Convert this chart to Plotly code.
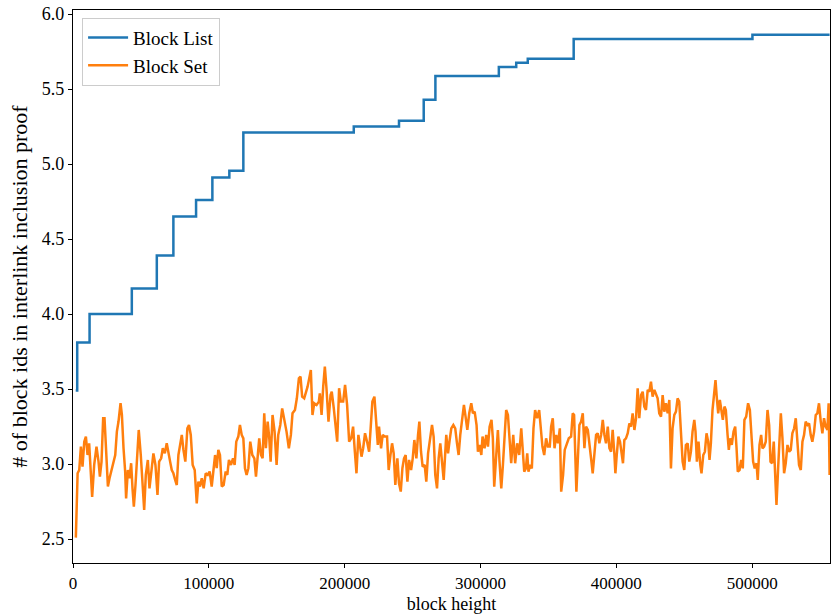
import plotly.graph_objects as go

# Block List: step changes (block height, value)
list_x = [2000, 3100, 12200, 43300, 61700, 73900, 90600, 102600, 115100, 125400,
          206700, 240000, 258200, 266800, 313500, 326300, 334800, 368600, 500200, 557000]
list_y = [3.49, 3.81, 4.00, 4.17, 4.39, 4.65, 4.76, 4.91, 4.955, 5.21,
          5.25, 5.288, 5.428, 5.587, 5.647, 5.675, 5.702, 5.833, 5.862, 5.862]

# Block Set: noisy series (block height, value)
set_x = [
    2100, 3400, 4600, 5800, 7000, 8300, 9500, 10700, 11900, 13200, 14100, 15600, 17300, 18800,
    19800, 21000, 22200, 23200, 24400, 25700, 26900, 28100, 29800, 31100, 32300, 33500, 35000,
    36000, 37200, 38400, 39100, 40400, 41600, 42800, 43800, 44800, 46000, 47000, 48400, 49900,
    51100, 52400, 53600, 55100, 56300, 57500, 59200, 60700, 62200, 63400, 64900, 66100, 67600,
    69000, 70300, 71500, 72700, 73900, 75200, 76400, 77600, 78800, 80100, 81300, 82700, 84200,
    85400, 86700, 88100, 89600,
    91100, 92300, 93500, 94800, 96200, 97700, 99200, 100600, 102100, 103300, 104600, 105800,
    107000, 108200, 109500, 110900, 112400, 113600, 114800, 116300, 117800, 119000, 120200,
    121700, 122900, 124200, 125400, 126600, 127800, 129100, 130500, 132000, 133500, 134700,
    135900, 137100, 138400, 139600, 140800, 142000, 143300, 144500, 145500, 146900, 148400,
    149900, 151100, 152600, 154000, 155500, 157200, 158900, 160400, 161600, 163400, 164800,
    166300, 167500, 168700, 170200, 171400, 172700, 173900, 175100, 176300, 177600, 179300,
    181000,
    181700, 183000, 184200, 185400, 186600, 188100, 189600, 190500, 192000, 193200, 194500,
    195900, 197200, 198900, 200300, 201800, 203300, 204800, 206200, 207500, 208700, 210100,
    211400, 212400, 213600, 215000, 216500, 218000, 219200, 220400, 221900, 223100, 224400,
    225300, 226800, 228000, 229500, 231200, 232400, 233700, 234900, 236100, 237300, 238800,
    240000, 241300, 242500, 243700, 244900, 246200, 247400, 248900, 250100, 251300, 252800,
    254000, 255000, 256200, 257400, 258900, 260100, 261400, 262800, 264300, 265500, 266700,
    268000, 269200, 270400, 271600, 272900,
    274800, 276100, 277300, 278500, 280000, 281400, 282700, 283900, 285100, 286300, 287800,
    289000, 290300, 291700, 293200, 294400, 295700, 297100, 298100, 299300, 300600, 301500,
    303000, 304200, 305500, 306700, 308100, 309100, 310100, 311600, 312800, 314000, 315300,
    316500, 317700, 318900, 320200, 321400, 322600, 324100, 325500, 327000, 328500, 330000,
    330900, 332200, 333400, 334400, 335300, 336600, 337800, 339000, 340200, 341700, 343200,
    344400, 345600, 346900, 348300, 349600, 351000, 352000, 353200, 354500, 355700, 357100,
    358400, 359400, 360800, 362000, 363500, 365000,
    366700, 367900, 368900, 369900, 370600, 371800, 372800, 374100, 375300, 376500, 377700,
    379000, 380200, 381400, 382600, 383900, 385100, 386300, 387500, 388800, 390000, 391200,
    392400, 393700, 394900, 396100, 397300, 398600, 399300, 400300, 401500, 402700, 403900,
    404900, 405900, 407100, 408400, 409600, 410800, 412000, 413300, 414500, 415700, 416900,
    418200, 419400, 420600, 421800, 423100, 424300, 425500, 426700, 428000, 429200, 430400,
    431600, 432900, 434100, 435300, 436500, 437800, 439000, 440200, 441400, 442700, 443900,
    445100, 446300, 447600, 448800, 450000, 451200, 452500, 453700, 454900, 456100,
    457400, 458300, 459300, 460500, 461800, 462700, 464000, 465200, 466400, 467600, 468600,
    469600, 470800, 472100, 473000, 474000, 475000, 476200, 477400, 478400, 479600, 480600,
    481900, 482800, 483800, 485000, 486300, 487500, 488500, 489400, 490700, 491900, 493100,
    494300, 495600, 497000, 498300, 499500, 500700, 501900, 503200, 504100, 505400, 506600,
    507600, 508800, 510000, 511300, 512500, 513500, 514700, 515900, 516900, 517900, 519100,
    520100, 521100, 522300, 523500, 524700, 526000, 527200, 528400, 529600, 530900, 532100,
    533300, 534500, 535800, 537000, 538200, 539400, 540700, 541900, 543100, 544300, 545600,
    546800, 548000, 549200, 550500, 551700, 552900, 554100, 555400, 556300, 557000,
]
set_y = [
    2.509, 2.938, 2.96, 3.116, 2.982, 3.149, 3.183, 3.06, 3.138, 2.88, 2.78, 2.994, 3.116, 3.016,
    2.916, 3.016, 3.305, 3.305, 3.06, 2.85, 2.905, 2.95, 3.016, 3.06, 3.216, 3.283, 3.405,
    3.327, 3.105, 2.95, 2.77, 2.96, 2.905, 3.005, 2.838, 2.716, 2.86, 2.994, 3.227, 3.06,
    2.838, 2.694, 2.927, 3.027, 2.838, 2.938, 3.071, 2.994, 2.794, 3.016, 3.038, 3.105, 3.071,
    3.138, 3.06, 3.016, 2.96, 2.938, 2.894, 2.86, 3.06, 3.127, 3.194, 3.094, 3.016, 3.238,
    3.26, 3.194, 2.994, 2.96,
    2.738, 2.883, 2.85, 2.905, 2.838, 2.938, 2.927, 2.95, 2.85, 2.95, 3.06, 2.972,
    3.094, 3.06, 2.85, 2.86, 2.95, 2.927, 3.027, 2.994, 3.038, 2.994, 3.149,
    3.183, 3.26, 3.194, 3.171, 2.972, 2.927, 2.972, 3.149, 3.06, 3.038, 2.916,
    3.06, 3.171, 3.06, 3.038, 3.338, 3.105, 3.283, 3.171, 3.016, 3.327, 3.216,
    2.994, 3.194, 3.26, 3.371, 3.305, 3.216, 3.105, 3.194, 3.338, 3.36, 3.438,
    3.571, 3.582, 3.449, 3.438, 3.471, 3.516, 3.571, 3.627, 3.327, 3.405, 3.394,
    3.416,
    3.471, 3.327, 3.516, 3.649, 3.505, 3.283, 3.46, 3.482, 3.371, 3.283, 3.149,
    3.505, 3.416, 3.416, 3.527, 3.394, 3.149, 3.171, 3.249, 3.082, 2.938, 3.194,
    3.105, 3.049, 3.105, 3.205, 3.149, 3.082, 3.249, 3.416, 3.449, 3.283, 3.127,
    3.249, 3.105, 3.194, 3.183, 3.183, 2.96, 3.06, 3.138, 3.071, 2.86, 3.038,
    2.871, 2.816, 2.972, 3.038, 3.06, 2.883, 3.027, 2.96, 3.038, 3.16, 3.038,
    3.194, 3.283, 3.082, 2.982, 2.994, 2.883, 3.071, 3.149, 3.26, 3.183, 2.927,
    2.838, 3.038, 3.138, 2.994, 2.894,
    3.194, 3.071, 3.16, 3.238, 3.26, 3.238, 3.138, 3.06, 3.194, 3.294, 3.394,
    3.316, 3.227, 3.338, 3.405, 3.338, 3.349, 3.26, 3.082, 3.127, 3.06, 3.183,
    3.105, 3.194, 3.116, 3.249, 3.294, 3.171, 2.849, 3.06, 3.227, 3.016, 2.838,
    2.994, 3.216, 3.36, 3.327, 3.138, 3.005, 3.194, 3.005, 3.138, 3.06, 3.238,
    3.105, 2.949, 2.971, 3.071, 2.949, 2.994, 2.971, 3.238, 3.36, 3.305, 3.36,
    3.26, 3.116, 3.06, 3.171, 3.116, 3.116, 3.249, 3.305, 3.105, 3.194, 3.138,
    3.238, 2.816, 2.927, 3.094, 3.127, 3.171,
    3.183, 3.338, 3.327, 3.016, 2.816, 3.06, 3.26, 3.283, 3.338, 3.105, 3.249,
    3.227, 3.149, 3.038, 2.938, 3.06, 3.194, 3.205, 3.138, 3.194, 3.294, 3.194,
    3.138, 3.249, 3.105, 3.082, 3.227, 3.06, 2.938, 3.06, 3.183, 3.149, 3.082,
    3.005, 3.16, 3.171, 3.205, 3.271, 3.249, 3.338, 3.227, 3.305, 3.505, 3.305,
    3.46, 3.482, 3.383, 3.36, 3.494, 3.482, 3.549, 3.449, 3.494, 3.471, 3.438,
    3.338, 3.316, 3.46, 3.349, 3.405, 3.338, 3.427, 2.971, 3.238, 3.327, 3.349,
    3.438, 3.416, 3.205, 3.016, 2.96, 3.127, 3.138, 3.016, 3.082, 3.216,
    3.294, 3.216, 3.016, 3.149, 2.994, 2.938, 3.06, 3.082, 3.205, 3.149, 3.027,
    3.138, 3.36, 3.471, 3.56, 3.438, 3.338, 3.427, 3.36, 3.294, 3.383, 3.36,
    3.194, 3.094, 3.171, 3.127, 3.216, 3.249, 3.105, 2.949, 2.96, 3.027, 2.971,
    3.294, 3.316, 3.405, 3.36, 3.194, 3.016, 2.971, 3.005, 2.894, 3.127, 3.194,
    3.105, 3.116, 3.149, 3.36, 3.26, 3.016, 3.005, 3.149, 2.938, 2.727, 2.971,
    3.194, 3.338, 3.171, 2.938, 3.005, 3.127, 3.082, 3.094, 3.205, 3.238, 3.305,
    3.149, 2.994, 2.96, 3.149, 3.194, 3.283, 3.26, 3.271, 3.194, 3.149, 3.216,
    3.327, 3.338, 3.405, 3.283, 3.205, 3.305, 3.249, 3.227, 3.405, 2.927,
]

x_ticks = [0, 100000, 200000, 300000, 400000, 500000]
y_ticks = [2.5, 3.0, 3.5, 4.0, 4.5, 5.0, 5.5, 6.0]

FONT = "Liberation Serif"

fig = go.Figure()
fig.add_trace(go.Scatter(x=list_x, y=list_y, mode="lines", name="Block List",
                         line=dict(color="#1f77b4", width=2.5, shape="hv")))
fig.add_trace(go.Scatter(x=set_x, y=set_y, mode="lines", name="Block Set",
                         line=dict(color="#ff7f0e", width=2.5)))

fig.update_layout(
    width=831, height=616,
    margin=dict(l=73, r=1, t=10, b=53),
    plot_bgcolor="white", paper_bgcolor="white",
    font=dict(family=FONT, size=18, color="black"),
    showlegend=True,
    legend=dict(x=0.012, y=0.986, xanchor="left", yanchor="top",
                bgcolor="rgba(255,255,255,0.8)", bordercolor="#cccccc", borderwidth=1,
                font=dict(family=FONT, size=19), itemwidth=40, tracegroupgap=0),
)
fig.update_xaxes(range=[0, 557300], tickvals=x_ticks, tickformat="d",
                 tickfont=dict(family=FONT, size=17, color="black"),
                 showgrid=False, zeroline=False, showline=True, linecolor="black",
                 linewidth=1.2, mirror=True, ticks="outside", ticklen=4, tickcolor="black",
                 title=dict(text="block height", standoff=5,
                            font=dict(family=FONT, size=18, color="black")))
fig.update_yaxes(range=[2.34, 6.027], tickvals=y_ticks, tickformat=".1f",
                 showgrid=False, zeroline=False, showline=True, linecolor="black",
                 linewidth=1.2, mirror=True, ticks="outside", ticklen=4, tickcolor="black",
                 title=dict(text="# of block ids in interlink inclusion proof", standoff=8))

fig.write_html("out.html", config={"displayModeBar": False},
               post_script="document.body.style.margin='0';document.body.style.padding='0';")
